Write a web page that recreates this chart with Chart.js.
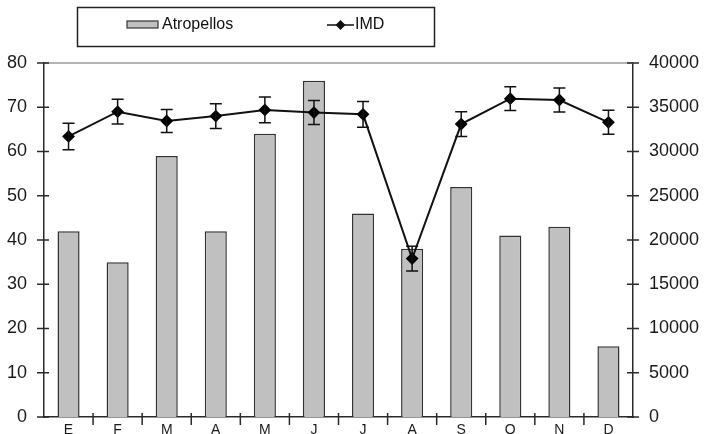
<!DOCTYPE html>
<html>
<head>
<meta charset="utf-8">
<script src="https://cdn.jsdelivr.net/npm/chart.js@4.4.1/dist/chart.umd.min.js"></script>
<style>
  html, body { margin: 0; padding: 0; background: #fff; }
</style>
</head>
<body>
<canvas id="chart" width="708" height="434"></canvas>
<script>
// datos
const months = ["E", "F", "M", "A", "M", "J", "J", "A", "S", "O", "N", "D"];
const atropellos = [42, 35, 59, 42, 64, 76, 46, 38, 52, 41, 43, 16];
const imd = [31700, 34500, 33450, 34000, 34700, 34400, 34200, 17900, 33100, 35970, 35820, 33300];
const imdError = [1500, 1400, 1300, 1400, 1450, 1350, 1450, 1400, 1400, 1350, 1350, 1350];
const leftMax = 80;
const rightMax = 40000;

const AXIS = "#2a2a2a";

// barras de error del IMD
const errorBars = {
  id: "errorBars",
  afterDatasetsDraw(chart) {
    const ctx = chart.ctx;
    const x = chart.scales.x;
    const y = chart.scales.y1;
    ctx.save();
    ctx.strokeStyle = "#111";
    ctx.lineWidth = 1.5;
    imd.forEach((v, i) => {
      const px = x.getPixelForValue(i);
      const top = y.getPixelForValue(v + imdError[i]);
      const bot = y.getPixelForValue(v - imdError[i]);
      ctx.beginPath();
      ctx.moveTo(px, top); ctx.lineTo(px, bot);
      ctx.moveTo(px - 6, top); ctx.lineTo(px + 6, top);
      ctx.moveTo(px - 6, bot); ctx.lineTo(px + 6, bot);
      ctx.stroke();
    });
    ctx.restore();
  }
};

// marco: linea superior, marcas cruzadas y leyenda
const frame = {
  id: "frame",
  beforeDatasetsDraw(chart) {
    const ctx = chart.ctx;
    const a = chart.chartArea;
    ctx.save();
    ctx.strokeStyle = "#9a9a9a";
    ctx.lineWidth = 1.5;
    ctx.beginPath();
    ctx.moveTo(a.left, a.top);
    ctx.lineTo(a.right, a.top);
    ctx.stroke();
    ctx.restore();
  },
  afterDraw(chart) {
    const ctx = chart.ctx;
    const a = chart.chartArea;
    const x = chart.scales.x;
    const y = chart.scales.y;
    const y1 = chart.scales.y1;
    ctx.save();
    ctx.strokeStyle = AXIS;
    ctx.lineWidth = 1.5;
    ctx.beginPath();
    y.ticks.forEach((t) => {
      const py = y.getPixelForValue(t.value);
      ctx.moveTo(a.left - 7, py); ctx.lineTo(a.left + 5, py);
    });
    y1.ticks.forEach((t) => {
      const py = y1.getPixelForValue(t.value);
      ctx.moveTo(a.right - 6, py); ctx.lineTo(a.right + 6, py);
    });
    for (let i = 0; i < months.length - 1; i++) {
      const px = (x.getPixelForValue(i) + x.getPixelForValue(i + 1)) / 2;
      ctx.moveTo(px, a.bottom - 4); ctx.lineTo(px, a.bottom + 8);
    }
    ctx.stroke();

    // leyenda
    ctx.lineWidth = 1.5;
    ctx.strokeStyle = "#222";
    ctx.strokeRect(77.5, 7.5, 357, 39);
    ctx.fillStyle = "#c0c0c0";
    ctx.fillRect(127, 21, 31, 7);
    ctx.strokeStyle = "#333";
    ctx.lineWidth = 1.2;
    ctx.strokeRect(127, 21, 31, 7);
    ctx.fillStyle = "#111";
    ctx.font = "16px 'Liberation Sans', Arial, sans-serif";
    ctx.textBaseline = "middle";
    ctx.fillText("Atropellos", 162, 25);
    ctx.strokeStyle = "#111";
    ctx.lineWidth = 1.5;
    ctx.beginPath();
    ctx.moveTo(327, 25); ctx.lineTo(354, 25);
    ctx.stroke();
    ctx.beginPath();
    ctx.moveTo(340.5, 20); ctx.lineTo(345.5, 25); ctx.lineTo(340.5, 30); ctx.lineTo(335.5, 25);
    ctx.closePath();
    ctx.fill();
    ctx.fillText("IMD", 355, 25);
    ctx.restore();
  }
};

Chart.defaults.font.family = "'Liberation Sans', Arial, sans-serif";
Chart.defaults.color = "#1a1a1a";

// sin reserva extra arriba/abajo para las etiquetas de los ejes y
function fixY(width) {
  return (s) => {
    s.width = width;
    s.paddingTop = 0;
    s.paddingBottom = 0;
  };
}

new Chart(document.getElementById("chart"), {
  data: {
    labels: months,
    datasets: [
      {
        type: "line",
        label: "IMD",
        data: imd,
        yAxisID: "y1",
        borderColor: "#111",
        borderWidth: 2,
        pointStyle: "rectRot",
        pointRadius: 5,
        pointBackgroundColor: "#000",
        pointBorderColor: "#000",
        tension: 0,
        order: 0
      },
      {
        type: "bar",
        label: "Atropellos",
        data: atropellos,
        yAxisID: "y",
        backgroundColor: "#c0c0c0",
        borderColor: "#333",
        borderWidth: 1.5,
        barPercentage: 0.45,
        categoryPercentage: 1,
        order: 1
      }
    ]
  },
  options: {
    responsive: false,
    animation: false,
    layout: { padding: { top: 63, left: 0, right: 0, bottom: 0 } },
    plugins: {
      legend: { display: false },
      tooltip: { enabled: false }
    },
    scales: {
      x: {
        offset: true,
        grid: { display: false, drawTicks: false },
        border: { display: true, color: AXIS, width: 1.5 },
        ticks: { font: { size: 14 }, padding: 5, maxRotation: 0 },
        afterFit: (s) => { s.height = 17; s.paddingLeft = 0; s.paddingRight = 0; }
      },
      y: {
        position: "left",
        min: 0,
        max: leftMax,
        grid: { display: false, drawTicks: false },
        border: { display: true, color: AXIS, width: 1.5 },
        ticks: { stepSize: 10, font: { size: 18 }, padding: 17 },
        afterFit: fixY(44)
      },
      y1: {
        position: "right",
        min: 0,
        max: rightMax,
        grid: { display: false, drawTicks: false },
        border: { display: true, color: AXIS, width: 1.5 },
        ticks: { stepSize: 5000, font: { size: 18 }, padding: 16, callback: (v) => String(v) },
        afterFit: fixY(75)
      }
    }
  },
  plugins: [frame, errorBars]
});
</script>
</body>
</html>
